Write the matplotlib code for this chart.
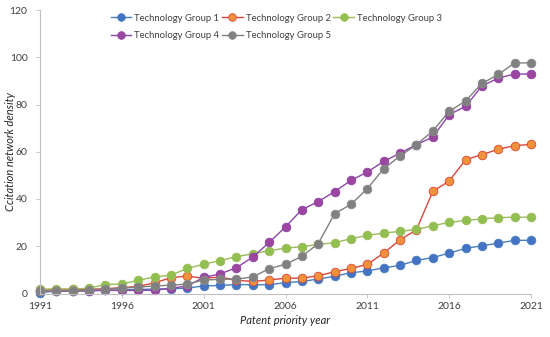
import matplotlib
matplotlib.use("Agg")
import matplotlib.pyplot as plt

plt.rcParams['font.family'] = ['Lato', 'DejaVu Sans']

years = list(range(1991, 2022))
group1 = [0.4, 1.0, 1.0, 1.2, 1.4, 1.5, 1.7, 1.9, 2.0, 2.3, 3.2, 3.4, 3.8, 3.7, 3.7, 4.6,
          5.1, 6.1, 7.3, 8.8, 9.5, 10.9, 11.9, 14.0, 15.2, 17.1, 19.1, 20.2, 21.3, 22.5, 22.5]
group2 = [1.5, 1.6, 1.8, 1.8, 2.0, 2.5, 3.0, 4.5, 6.7, 7.4, 6.4, 7.0, 5.6, 5.1, 5.7, 6.5,
          6.5, 7.5, 9.2, 10.6, 12.3, 17.1, 22.7, 27.0, 43.2, 47.6, 56.6, 58.8, 61.0, 62.6, 63.1]
group3 = [1.8, 2.0, 1.8, 2.3, 3.8, 4.0, 5.6, 7.0, 7.8, 10.6, 12.4, 13.9, 15.6, 16.8, 18.1, 19.2,
          19.8, 20.8, 21.5, 23.2, 24.6, 25.6, 26.3, 27.1, 28.7, 30.1, 30.9, 31.6, 32.1, 32.3, 32.3]
group4 = [1.0, 1.0, 1.0, 1.2, 1.3, 1.3, 1.3, 1.4, 2.2, 3.2, 6.8, 8.3, 10.9, 15.4, 21.6, 28.2,
          35.5, 38.9, 43.1, 47.9, 51.4, 55.9, 59.4, 63.0, 66.2, 75.7, 79.2, 87.8, 91.2, 92.9, 92.9]
group5 = [1.0, 1.0, 1.2, 1.5, 1.8, 2.2, 2.7, 3.2, 3.5, 4.0, 5.7, 6.0, 6.1, 7.0, 10.5, 12.4,
          15.7, 21.1, 33.8, 37.7, 44.4, 52.8, 58.2, 63.0, 68.8, 77.1, 81.5, 88.9, 92.7, 97.6, 97.6]
labels = ["Technology Group 1", "Technology Group 2", "Technology Group 3",
          "Technology Group 4", "Technology Group 5"]
xticks = [1991, 1996, 2001, 2006, 2011, 2016, 2021]
yticks = [0, 20, 40, 60, 80, 100, 120]

styles = [
    dict(color="#4A7EBB", mfc="#4472C4", mec="#4A7EBB"),
    dict(color="#D9473A", mfc="#F0913C", mec="#D9473A"),
    dict(color="#9BBB59", mfc="#92C050", mec="#9BBB59"),
    dict(color="#8E44A6", mfc="#9B469F", mec="#8E44A6"),
    dict(color="#7F7F7F", mfc="#808080", mec="#8A8A8A"),
]

fig = plt.figure(figsize=(5.5, 3.37), dpi=100)
ax = fig.add_axes([40/550, 1 - 293.5/337, 491/550, 283.5/337])

handles = []
for data, lab, st in zip([group1, group2, group3, group4, group5], labels, styles):
    h, = ax.plot(years, data, '-', color=st["color"], lw=1.0, marker='o', ms=6.2,
                 mfc=st["mfc"], mec=st["mec"], mew=0.6, label=lab, clip_on=False)
    handles.append(h)

ax.set_xlim(1991, 2021)
ax.set_ylim(0, 120)
ax.set_xticks(xticks)
ax.set_yticks(yticks)
ax.tick_params(axis='both', labelsize=7.5, colors='#404040', length=3, width=0.6,
               color='#BFBFBF')
ax.tick_params(axis='x', pad=3)
ax.tick_params(axis='y', pad=6)
for s in ['top', 'right']:
    ax.spines[s].set_visible(False)
for s in ['left', 'bottom']:
    ax.spines[s].set_color('#BFBFBF')
    ax.spines[s].set_linewidth(0.8)

ax.set_xlabel("Patent priority year", fontsize=8, style='italic', color='#262626', labelpad=3)
ax.set_ylabel("Ccitation network density", fontsize=8, style='italic', color='#262626')
ax.yaxis.set_label_coords(-0.049, 0.5)

order = [0, 3, 1, 4, 2]
leg = ax.legend([handles[i] for i in order], [labels[i] for i in order], ncol=3,
                loc='upper left', bbox_to_anchor=(0.136, 1.0), frameon=False,
                fontsize=6.8, handlelength=2.2, columnspacing=0.3, handletextpad=0.3,
                labelspacing=0.9, borderaxespad=0)
for t in leg.get_texts():
    t.set_color('#404040')
for h in leg.legend_handles:
    h.set_markersize(5.5)

fig.savefig("out.png", dpi=100)
